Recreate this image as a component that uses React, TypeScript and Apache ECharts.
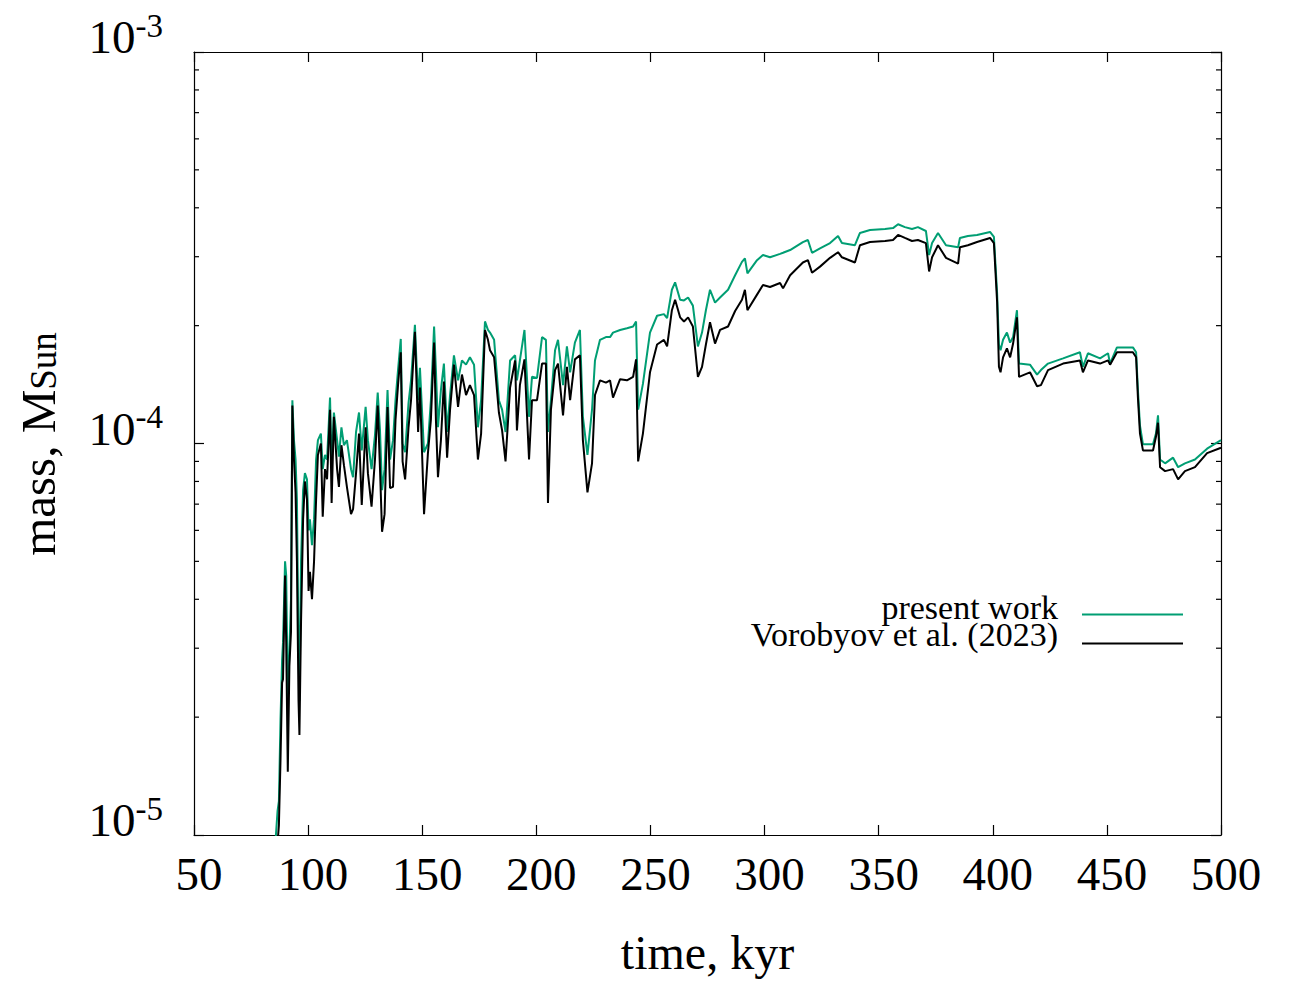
import React, { useEffect, useRef } from "react";
import * as echarts from "echarts";

// time, kyr
const time = [
  84.2, 85.9, 86.6, 87.2, 87.9, 88.6, 89.0, 89.9, 90.4, 91.1,
  91.8, 92.5, 93.1, 93.8, 94.5, 95.1, 95.8, 96.2, 96.9, 97.8,
  98.6, 99.5, 100.2, 100.8, 101.7, 102.6, 103.5, 104.3, 105.6, 106.4,
  107.4, 108.3, 109.6, 110.3, 111.3, 112.7, 113.5, 114.6, 115.7, 117.0,
  118.8, 119.7, 121.0, 122.3, 123.5, 125.2, 126.2, 127.8, 129.3, 130.5,
  131.5, 132.4, 133.5, 134.8, 135.9, 137.2, 138.3, 139.4, 140.6, 141.4,
  142.5, 144.0, 145.1, 146.8, 148.2, 149.0, 150.8, 152.5, 153.8, 155.2,
  156.0, 156.9, 158.2, 159.5, 160.9, 162.2, 163.9, 165.7, 167.4, 169.2,
  170.9, 172.7, 174.4, 175.8, 177.5, 178.8, 179.7, 181.5, 183.6, 185.0,
  186.5, 188.5, 190.7, 191.5, 192.8, 194.8, 196.8, 198.1, 200.3, 202.5,
  204.2, 205.1, 206.4, 208.2, 209.5, 211.7, 213.4, 214.8, 216.9, 219.1,
  220.4, 222.4, 224.4, 225.7, 227.9, 230.5, 232.3, 233.6, 236.7, 239.7,
  242.4, 243.7, 244.6, 246.7, 249.8, 252.9, 255.9, 257.3, 259.4, 260.8,
  263.0, 264.7, 266.5, 268.6, 270.8, 272.6, 274.3, 276.1, 278.3, 280.5,
  284.0, 287.1, 290.1, 291.4, 292.5, 296.7, 299.3, 302.4, 306.8, 308.1,
  311.2, 316.8, 319.0, 320.8, 324.3, 328.7, 332.2, 333.9, 339.6, 341.8,
  346.2, 352.8, 356.3, 358.5, 361.5, 364.6, 367.2, 370.7, 372.1, 373.4,
  376.0, 379.5, 384.8, 385.6, 389.1, 393.1, 398.8, 400.5, 401.9, 402.7,
  403.4, 404.5, 406.2, 407.6, 408.9, 410.6, 411.5, 416.3, 419.4, 421.1,
  424.2, 430.8, 438.2, 439.5, 441.7, 447.0, 450.5, 451.4, 454.4, 461.4,
  462.8, 463.6, 464.5, 465.8, 470.2, 471.5, 472.4, 473.3, 475.5, 479.0,
  480.3, 481.2, 484.2, 488.6, 493.9, 500.0,
];

// mass, M_Sun — present work
const presentWork = [
  0.8e-5, 1.0e-5, 1.15e-5, 1.22e-5, 1.97e-5, 2.8e-5, 3.1e-5, 5.0e-5, 4.6e-5, 2.2e-5,
  2.97e-5, 3.98e-5, 12.9e-5, 10.2e-5, 9.1e-5, 7.2e-5, 3.0e-5, 2.2e-5, 5.0e-5, 7.6e-5,
  8.4e-5, 8.1e-5, 6.0e-5, 6.4e-5, 5.5e-5, 6.4e-5, 9.1e-5, 10.2e-5, 10.6e-5, 8.6e-5,
  9.35e-5, 9.1e-5, 13.1e-5, 8.8e-5, 12.0e-5, 10.2e-5, 9.25e-5, 11.0e-5, 9.9e-5, 10.2e-5,
  8.6e-5, 8.2e-5, 10.7e-5, 12.0e-5, 9.6e-5, 12.4e-5, 10.2e-5, 8.6e-5, 10.5e-5, 13.5e-5,
  10.8e-5, 7.6e-5, 8.6e-5, 13.7e-5, 9.1e-5, 10.2e-5, 12.9e-5, 15.4e-5, 18.5e-5, 10.0e-5,
  9.5e-5, 12.7e-5, 14.5e-5, 20.1e-5, 12.9e-5, 15.6e-5, 9.5e-5, 10.0e-5, 12.9e-5, 19.9e-5,
  15.4e-5, 11.0e-5, 13.7e-5, 16.0e-5, 10.7e-5, 13.3e-5, 16.8e-5, 14.5e-5, 16.3e-5, 15.9e-5,
  16.6e-5, 15.9e-5, 11.0e-5, 12.9e-5, 20.5e-5, 19.5e-5, 19.2e-5, 18.4e-5, 12.9e-5, 12.2e-5,
  10.7e-5, 16.3e-5, 16.8e-5, 14.5e-5, 16.3e-5, 19.5e-5, 11.7e-5, 14.8e-5, 14.7e-5, 18.7e-5,
  18.4e-5, 10.7e-5, 12.9e-5, 17.3e-5, 18.4e-5, 14.1e-5, 17.7e-5, 15.2e-5, 18.1e-5, 19.5e-5,
  11.7e-5, 9.35e-5, 12.2e-5, 16.3e-5, 18.4e-5, 18.7e-5, 18.7e-5, 19.2e-5, 19.5e-5, 19.7e-5,
  19.9e-5, 20.5e-5, 12.2e-5, 14.2e-5, 19.2e-5, 21.2e-5, 21.4e-5, 20.9e-5, 24.7e-5, 25.8e-5,
  23.3e-5, 23.2e-5, 23.6e-5, 22.5e-5, 17.7e-5, 19.2e-5, 21.9e-5, 24.7e-5, 22.9e-5, 23.6e-5,
  24.7e-5, 26.9e-5, 29.1e-5, 29.7e-5, 27.2e-5, 29.4e-5, 30.3e-5, 29.9e-5, 30.5e-5, 30.7e-5,
  31.2e-5, 32.7e-5, 33.1e-5, 30.7e-5, 31.5e-5, 32.5e-5, 33.9e-5, 32.5e-5, 32.1e-5, 34.5e-5,
  35.1e-5, 35.3e-5, 35.5e-5, 36.3e-5, 35.7e-5, 35.3e-5, 35.7e-5, 34.9e-5, 30.3e-5, 32.5e-5,
  34.5e-5, 32.1e-5, 31.7e-5, 33.5e-5, 33.9e-5, 34.1e-5, 34.7e-5, 33.7e-5, 24.2e-5, 17.9e-5,
  17.3e-5, 18.4e-5, 19.2e-5, 18.1e-5, 18.7e-5, 21.9e-5, 16.0e-5, 15.9e-5, 15.0e-5, 15.4e-5,
  16.0e-5, 16.5e-5, 17.1e-5, 15.7e-5, 17.0e-5, 16.5e-5, 17.0e-5, 16.0e-5, 17.6e-5, 17.6e-5,
  17.1e-5, 13.7e-5, 11.1e-5, 9.95e-5, 9.95e-5, 10.6e-5, 11.8e-5, 9.1e-5, 8.9e-5, 9.2e-5,
  8.9e-5, 8.7e-5, 8.9e-5, 9.1e-5, 9.7e-5, 10.2e-5,
];

// mass, M_Sun — Vorobyov et al. (2023)
const vorobyov2023 = [
  0.8e-5, 0.9e-5, 0.95e-5, 1.06e-5, 1.55e-5, 2.45e-5, 2.5e-5, 4.6e-5, 3.1e-5, 1.45e-5,
  2.7e-5, 3.3e-5, 12.5e-5, 9.1e-5, 7.5e-5, 5.0e-5, 2.2e-5, 1.8e-5, 3.5e-5, 6.4e-5,
  8.0e-5, 7.2e-5, 4.2e-5, 4.7e-5, 4.0e-5, 5.0e-5, 7.2e-5, 9.35e-5, 10.0e-5, 6.5e-5,
  8.6e-5, 8.1e-5, 12.2e-5, 7.05e-5, 11.7e-5, 8.6e-5, 7.75e-5, 9.9e-5, 8.8e-5, 7.75e-5,
  6.6e-5, 6.8e-5, 8.4e-5, 10.6e-5, 6.97e-5, 11.0e-5, 8.4e-5, 6.9e-5, 9.1e-5, 12.5e-5,
  8.6e-5, 5.95e-5, 6.6e-5, 12.4e-5, 7.7e-5, 7.75e-5, 11.5e-5, 14.1e-5, 17.1e-5, 9.0e-5,
  8.1e-5, 11.0e-5, 12.9e-5, 19.3e-5, 10.7e-5, 13.9e-5, 6.6e-5, 9.45e-5, 11.5e-5, 18.1e-5,
  11.5e-5, 8.2e-5, 10.2e-5, 14.4e-5, 9.2e-5, 12.2e-5, 15.9e-5, 12.4e-5, 15.0e-5, 13.3e-5,
  14.1e-5, 13.3e-5, 9.1e-5, 10.6e-5, 19.5e-5, 18.4e-5, 17.3e-5, 16.6e-5, 12.0e-5, 10.8e-5,
  9.0e-5, 13.9e-5, 16.3e-5, 10.8e-5, 14.1e-5, 16.4e-5, 9.1e-5, 12.9e-5, 12.9e-5, 16.0e-5,
  16.0e-5, 7.05e-5, 12.2e-5, 15.4e-5, 16.0e-5, 11.8e-5, 15.7e-5, 12.9e-5, 16.4e-5, 16.8e-5,
  10.2e-5, 7.5e-5, 8.9e-5, 13.3e-5, 14.5e-5, 14.3e-5, 14.5e-5, 13.1e-5, 14.6e-5, 14.5e-5,
  14.8e-5, 16.4e-5, 9.0e-5, 10.6e-5, 15.2e-5, 17.9e-5, 18.4e-5, 17.7e-5, 21.9e-5, 23.3e-5,
  21.0e-5, 20.5e-5, 21.0e-5, 19.9e-5, 14.8e-5, 15.7e-5, 17.9e-5, 20.4e-5, 18.0e-5, 19.5e-5,
  19.9e-5, 21.8e-5, 23.3e-5, 24.7e-5, 21.9e-5, 24.0e-5, 25.4e-5, 25.1e-5, 25.7e-5, 24.9e-5,
  26.9e-5, 29.0e-5, 29.4e-5, 27.3e-5, 28.3e-5, 29.8e-5, 30.8e-5, 29.9e-5, 29.0e-5, 32.1e-5,
  32.7e-5, 32.9e-5, 33.1e-5, 34.1e-5, 33.5e-5, 32.9e-5, 33.1e-5, 32.5e-5, 27.5e-5, 29.9e-5,
  32.1e-5, 29.8e-5, 28.8e-5, 31.7e-5, 32.1e-5, 32.7e-5, 33.5e-5, 32.5e-5, 23.0e-5, 15.7e-5,
  15.2e-5, 16.6e-5, 17.5e-5, 16.6e-5, 18.0e-5, 21.0e-5, 14.8e-5, 15.2e-5, 14.0e-5, 14.1e-5,
  15.4e-5, 16.0e-5, 16.3e-5, 15.2e-5, 16.3e-5, 16.0e-5, 16.3e-5, 15.9e-5, 17.1e-5, 17.1e-5,
  16.6e-5, 13.1e-5, 10.6e-5, 9.6e-5, 9.6e-5, 10.4e-5, 11.3e-5, 8.7e-5, 8.5e-5, 8.6e-5,
  8.3e-5, 8.1e-5, 8.5e-5, 8.7e-5, 9.45e-5, 9.75e-5,
];

const seriesNames = ["present work", "Vorobyov et al. (2023)"];
const seriesColors = ["#009e73", "#000000"];

const X_MIN = 50;
const X_MAX = 500;
const X_STEP = 50;
const Y_MIN = 1e-5;
const Y_MAX = 1e-3;

// minor ticks of the logarithmic axis
const yMinorTicks = [
  2e-5, 3e-5, 4e-5, 5e-5, 6e-5, 7e-5, 8e-5, 9e-5,
  2e-4, 3e-4, 4e-4, 5e-4, 6e-4, 7e-4, 8e-4, 9e-4,
];

const xTitle = "time, kyr";
const yTitleMain = "mass, M";
const yTitleSub = "Sun";

const FONT = '"Liberation Serif", "Times New Roman", Times, serif';

export default function App() {
  const ref = useRef<HTMLDivElement>(null);

  useEffect(() => {
    if (!ref.current) return;
    const chart = echarts.init(ref.current, undefined, { renderer: "svg" });

    const axisLine = { show: true, lineStyle: { color: "#000", width: 1.2 } };
    const majorTick = {
      show: true,
      inside: true,
      length: 10,
      lineStyle: { color: "#000", width: 1.2 },
    };

    const option: any = {
      animation: false,
      backgroundColor: "#fff",
      grid: {
        left: 194,
        top: 52,
        width: 1027,
        height: 783,
        containLabel: false,
        outerBoundsMode: "none",
      },
      xAxis: [
        {
          type: "value",
          position: "bottom",
          min: X_MIN,
          max: X_MAX,
          interval: X_STEP,
          axisLine,
          axisTick: majorTick,
          splitLine: { show: false },
          axisLabel: {
            fontFamily: FONT,
            fontSize: 47,
            lineHeight: 46,
            color: "#000",
            margin: 16,
            padding: [0, 0, 0, 10],
          },
          name: xTitle,
          nameLocation: "middle",
          nameGap: 117,
          nameTextStyle: {
            fontFamily: FONT,
            fontSize: 48,
            lineHeight: 48,
            color: "#000",
            verticalAlign: "middle",
          },
        },
        {
          type: "value",
          position: "top",
          min: X_MIN,
          max: X_MAX,
          interval: X_STEP,
          axisLine,
          axisTick: majorTick,
          splitLine: { show: false },
          axisLabel: { show: false },
        },
      ],
      yAxis: [
        {
          type: "log",
          logBase: 10,
          position: "left",
          min: Y_MIN,
          max: Y_MAX,
          axisLine,
          axisTick: majorTick,
          splitLine: { show: false },
          axisLabel: {
            margin: 31,
            padding: [0, 0, 30, 0],
            formatter: (v: number) => `{b|10}{e|${Math.round(Math.log10(v))}}`,
            rich: {
              b: { fontFamily: FONT, fontSize: 47, color: "#000", lineHeight: 56 },
              e: {
                fontFamily: FONT,
                fontSize: 33,
                color: "#000",
                lineHeight: 20,
                verticalAlign: "top",
              },
            },
          },
        },
        {
          type: "log",
          logBase: 10,
          position: "right",
          min: Y_MIN,
          max: Y_MAX,
          axisLine,
          axisTick: majorTick,
          splitLine: { show: false },
          axisLabel: { show: false },
        },
      ],
      series: [
        {
          type: "custom",
          name: "minor ticks",
          silent: true,
          xAxisIndex: 0,
          yAxisIndex: 0,
          data: yMinorTicks.map((v) => [X_MIN, v]),
          renderItem: (_params: any, api: any) => {
            const v = api.value(1);
            const l = api.coord([X_MIN, v]);
            const r = api.coord([X_MAX, v]);
            const st = { stroke: "#000", lineWidth: 1.2 };
            return {
              type: "group",
              children: [
                { type: "line", shape: { x1: l[0], y1: l[1], x2: l[0] + 5, y2: l[1] }, style: st },
                { type: "line", shape: { x1: r[0] - 5, y1: r[1], x2: r[0], y2: r[1] }, style: st },
              ],
            };
          },
        },
        {
          type: "line",
          name: seriesNames[0],
          data: time.map((t, i) => [t, presentWork[i]]),
          showSymbol: false,
          symbol: "none",
          clip: true,
          lineStyle: { color: seriesColors[0], width: 2 },
          itemStyle: { color: seriesColors[0] },
        },
        {
          type: "line",
          name: seriesNames[1],
          data: time.map((t, i) => [t, vorobyov2023[i]]),
          showSymbol: false,
          symbol: "none",
          clip: true,
          lineStyle: { color: seriesColors[1], width: 2 },
          itemStyle: { color: seriesColors[1] },
        },
      ],
      graphic: [
        {
          type: "text",
          x: 38,
          y: 444,
          rotation: Math.PI / 2,
          style: {
            text: `{a|${yTitleMain}}{s|${yTitleSub}}`,
            align: "center",
            verticalAlign: "middle",
            fill: "#000",
            rich: {
              a: { fontFamily: FONT, fontSize: 49, lineHeight: 48, fill: "#000" },
              s: {
                fontFamily: FONT,
                fontSize: 37,
                lineHeight: 20,
                verticalAlign: "bottom",
                fill: "#000",
              },
            },
          },
        },
        {
          type: "text",
          x: 1058,
          y: 607,
          style: {
            text: seriesNames[0],
            fontFamily: FONT,
            fontSize: 34,
            lineHeight: 26,
            align: "right",
            verticalAlign: "middle",
            fill: "#000",
          },
        },
        {
          type: "line",
          shape: { x1: 1082, y1: 614.5, x2: 1183, y2: 614.5 },
          style: { stroke: seriesColors[0], lineWidth: 2 },
        },
        {
          type: "text",
          x: 1058,
          y: 634,
          style: {
            text: seriesNames[1],
            fontFamily: FONT,
            fontSize: 34,
            lineHeight: 26,
            align: "right",
            verticalAlign: "middle",
            fill: "#000",
          },
        },
        {
          type: "line",
          shape: { x1: 1082, y1: 643.5, x2: 1183, y2: 643.5 },
          style: { stroke: seriesColors[1], lineWidth: 2 },
        },
      ],
    };

    chart.setOption(option);
    return () => chart.dispose();
  }, []);

  return (
    <div
      ref={ref}
      style={{
        position: "absolute",
        left: 0,
        top: 0,
        width: 1300,
        height: 1000,
        background: "#fff",
      }}
    />
  );
}
